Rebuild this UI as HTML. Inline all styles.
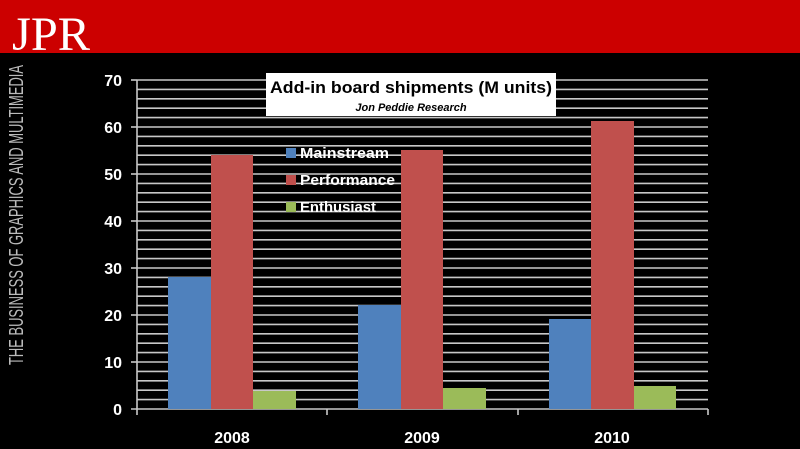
<!DOCTYPE html>
<html><head><style>body{margin:0;background:#000;}svg{display:block}</style></head><body>
<svg width="800" height="449" xmlns="http://www.w3.org/2000/svg" font-family="Liberation Sans, sans-serif">
<rect width="800" height="449" fill="#000"/>
<rect width="800" height="53" fill="#cc0000"/>
<text x="12" y="50" font-family="Liberation Serif, serif" font-size="48" fill="#fff" textLength="78" lengthAdjust="spacingAndGlyphs">JPR</text>
<text transform="translate(23,365) rotate(-90)" font-size="20" fill="#bbb" textLength="300" lengthAdjust="spacingAndGlyphs">THE BUSINESS OF GRAPHICS AND MULTIMEDIA</text>
<g stroke="#c8c8c8" stroke-width="1.6">
<line x1="137" y1="399.6" x2="708" y2="399.6"/><line x1="137" y1="390.2" x2="708" y2="390.2"/><line x1="137" y1="380.8" x2="708" y2="380.8"/><line x1="137" y1="371.4" x2="708" y2="371.4"/><line x1="137" y1="362" x2="708" y2="362"/><line x1="137" y1="352.6" x2="708" y2="352.6"/><line x1="137" y1="343.2" x2="708" y2="343.2"/><line x1="137" y1="333.8" x2="708" y2="333.8"/><line x1="137" y1="324.4" x2="708" y2="324.4"/><line x1="137" y1="315" x2="708" y2="315"/><line x1="137" y1="305.6" x2="708" y2="305.6"/><line x1="137" y1="296.2" x2="708" y2="296.2"/><line x1="137" y1="286.8" x2="708" y2="286.8"/><line x1="137" y1="277.4" x2="708" y2="277.4"/><line x1="137" y1="268" x2="708" y2="268"/><line x1="137" y1="258.6" x2="708" y2="258.6"/><line x1="137" y1="249.2" x2="708" y2="249.2"/><line x1="137" y1="239.8" x2="708" y2="239.8"/><line x1="137" y1="230.4" x2="708" y2="230.4"/><line x1="137" y1="221" x2="708" y2="221"/><line x1="137" y1="211.6" x2="708" y2="211.6"/><line x1="137" y1="202.2" x2="708" y2="202.2"/><line x1="137" y1="192.8" x2="708" y2="192.8"/><line x1="137" y1="183.4" x2="708" y2="183.4"/><line x1="137" y1="174" x2="708" y2="174"/><line x1="137" y1="164.6" x2="708" y2="164.6"/><line x1="137" y1="155.2" x2="708" y2="155.2"/><line x1="137" y1="145.8" x2="708" y2="145.8"/><line x1="137" y1="136.4" x2="708" y2="136.4"/><line x1="137" y1="127" x2="708" y2="127"/><line x1="137" y1="117.6" x2="708" y2="117.6"/><line x1="137" y1="108.2" x2="708" y2="108.2"/><line x1="137" y1="98.8" x2="708" y2="98.8"/><line x1="137" y1="89.4" x2="708" y2="89.4"/><line x1="137" y1="80" x2="708" y2="80"/>
<line x1="137" y1="80" x2="137" y2="409"/>
<line x1="131" y1="409" x2="708" y2="409"/>
<line x1="131" y1="80" x2="137" y2="80"/><line x1="131" y1="127" x2="137" y2="127"/><line x1="131" y1="174" x2="137" y2="174"/><line x1="131" y1="221" x2="137" y2="221"/><line x1="131" y1="268" x2="137" y2="268"/><line x1="131" y1="315" x2="137" y2="315"/><line x1="131" y1="362" x2="137" y2="362"/>
<line x1="137" y1="409" x2="137" y2="415"/><line x1="327" y1="409" x2="327" y2="415"/><line x1="518" y1="409" x2="518" y2="415"/><line x1="708" y1="409" x2="708" y2="415"/>
</g>
<g fill="#4f81bd"><rect x="168" y="277" width="43" height="132"/><rect x="358" y="305" width="43" height="104"/><rect x="549" y="319" width="42" height="90"/></g>
<g fill="#c0504d"><rect x="211" y="155" width="42" height="254"/><rect x="401" y="150" width="42" height="259"/><rect x="591" y="121" width="43" height="288"/></g>
<g fill="#9bbb59"><rect x="253" y="391" width="43" height="18"/><rect x="443" y="388" width="43" height="21"/><rect x="634" y="386" width="42" height="23"/></g>
<g fill="#fff" font-weight="bold" font-size="16" text-anchor="end">
<text x="122" y="86">70</text><text x="122" y="133">60</text><text x="122" y="180">50</text><text x="122" y="227">40</text><text x="122" y="274">30</text><text x="122" y="321">20</text><text x="122" y="368">10</text><text x="122" y="415">0</text>
</g>
<g fill="#fff" font-weight="bold" font-size="16" text-anchor="middle">
<text x="232" y="443">2008</text><text x="422" y="443">2009</text><text x="612" y="443">2010</text>
</g>
<rect x="266" y="73" width="290" height="43" fill="#fff"/>
<text x="411" y="93" text-anchor="middle" font-size="17" font-weight="bold" fill="#000" textLength="282" lengthAdjust="spacingAndGlyphs">Add-in board shipments  (M units)</text>
<text x="411" y="111" text-anchor="middle" font-size="11" font-weight="bold" font-style="italic" fill="#000">Jon Peddie Research</text>
<rect x="286" y="148" width="10" height="10" fill="#4f81bd"/>
<rect x="286" y="175" width="10" height="10" fill="#c0504d"/>
<rect x="286" y="202" width="10" height="10" fill="#9bbb59"/>
<g fill="#fff" font-weight="bold" font-size="15">
<text x="300" y="158" textLength="89" lengthAdjust="spacingAndGlyphs">Mainstream</text><text x="300" y="185" textLength="95" lengthAdjust="spacingAndGlyphs">Performance</text><text x="300" y="212" textLength="76" lengthAdjust="spacingAndGlyphs">Enthusiast</text>
</g>
</svg>
</body></html>
